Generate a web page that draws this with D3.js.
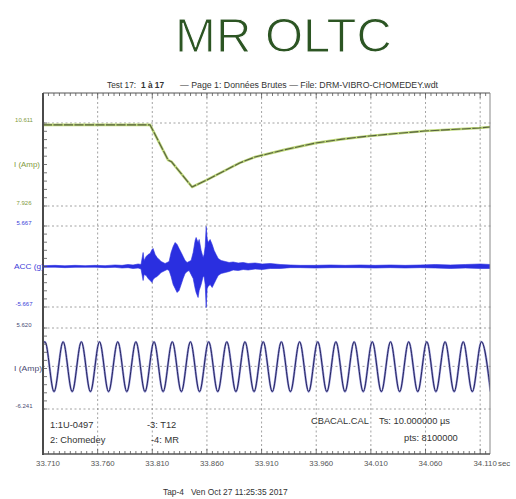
<!DOCTYPE html>
<html><head><meta charset="utf-8">
<script src="https://cdn.jsdelivr.net/npm/d3@7"></script>
<style>body{margin:0;background:#fff}svg{display:block}text{font-family:"Liberation Sans",Arial,sans-serif}</style>
</head><body><svg id="c" width="516" height="499"></svg>
<script>
// ---------- data ----------
const xTicks = [33.710,33.760,33.810,33.860,33.910,33.960,34.010,34.060,34.110];
const xTickLabels = ["33.710","33.760","33.810","33.860","33.910","33.960","34.010","34.060","34.110"];
const xDomain = [33.710, 34.119];

const curRange = [7.926, 10.611];
const curTickLabels = ["10.611","7.926"];
const curT = [33.710,33.808,33.8245,33.8275,33.8464,33.860,33.890,33.904,33.9316,33.959,33.9838,34.0085,34.0333,34.059,34.0836,34.109,34.119];
const curV = [10.55,10.55,9.41,9.36,8.54,8.77,9.32,9.51,9.75,9.96,10.09,10.19,10.27,10.35,10.40,10.45,10.48];

const accRange = [-5.667, 5.667];
const accTickLabels = ["5.667","-5.667"];
const accT = [33.7100,33.7210,33.7301,33.7393,33.7485,33.7576,33.7668,33.7759,33.7823,33.7878,33.7924,33.7970,33.7997,33.8016,33.8025,33.8044,33.8062,33.8080,33.8098,33.8107,33.8126,33.8144,33.8162,33.8181,33.8199,33.8217,33.8236,33.8254,33.8272,33.8291,33.8309,33.8327,33.8345,33.8364,33.8382,33.8400,33.8419,33.8437,33.8455,33.8474,33.8492,33.8501,33.8519,33.8529,33.8547,33.8565,33.8574,33.8584,33.8593,33.8602,33.8611,33.8629,33.8648,33.8666,33.8684,33.8703,33.8730,33.8767,33.8803,33.8840,33.8886,33.8932,33.8977,33.9041,33.9106,33.9179,33.9270,33.9362,33.9454,33.9591,33.9728,33.9866,34.0003,34.0140,34.0278,34.0415,34.0552,34.0690,34.0827,34.0965,34.1102,34.1193];
const accHi = [0.12,0.16,0.10,0.16,0.12,0.16,0.12,0.21,0.16,0.28,0.21,0.35,0.28,1.96,0.84,1.40,1.68,1.82,2.38,2.52,1.68,1.26,0.98,0.70,0.56,0.42,0.56,0.70,1.96,2.80,3.36,3.08,2.52,1.96,1.40,0.84,0.56,0.70,0.84,1.96,3.64,4.06,3.36,3.78,2.24,1.26,1.68,2.80,5.60,3.92,3.36,3.78,3.08,2.24,1.68,1.12,0.84,0.70,0.56,0.63,0.49,0.56,0.42,0.49,0.35,0.42,0.28,0.21,0.16,0.16,0.21,0.16,0.21,0.16,0.21,0.16,0.21,0.28,0.21,0.28,0.35,0.28];
const accLo = [-0.12,-0.10,-0.16,-0.12,-0.12,-0.10,-0.16,-0.12,-0.21,-0.16,-0.28,-0.21,-0.35,-1.96,-1.12,-1.26,-1.68,-1.96,-2.24,-1.82,-1.54,-1.40,-1.12,-0.84,-0.70,-0.56,-0.42,-0.56,-1.40,-2.52,-3.08,-3.64,-3.36,-2.52,-1.68,-0.98,-0.70,-0.56,-1.12,-1.68,-3.08,-3.64,-4.34,-3.36,-2.52,-1.40,-1.40,-2.52,-5.74,-3.08,-2.80,-2.52,-2.94,-2.38,-1.82,-1.26,-0.98,-0.84,-0.70,-0.49,-0.56,-0.42,-0.49,-0.35,-0.42,-0.28,-0.28,-0.16,-0.16,-0.21,-0.16,-0.16,-0.16,-0.21,-0.16,-0.21,-0.16,-0.21,-0.28,-0.21,-0.28,-0.28];

const sineRange = [-6.241, 5.620];
const sineTickLabels = ["5.620","-6.241"];
const sineStart = [33.7100, 3.30];
const sinePeakT = [33.7118,33.7284,33.7451,33.7617,33.7784,33.7950,33.8116,33.8283,33.8449,33.8616,33.8782,33.8948,33.9115,33.9281,33.9448,33.9614,33.9780,33.9947,34.0113,34.0280,34.0446,34.0612,34.0779,34.0945,34.1112];
const sinePeakV = [3.6,3.6,3.6,3.6,3.6,3.6,3.6,3.6,3.6,3.6,3.6,3.6,3.6,3.6,3.6,3.6,3.6,3.6,3.6,3.6,3.6,3.6,3.6,3.6,3.6];
const sineTroughT = [33.7201,33.7367,33.7534,33.7700,33.7867,33.8033,33.8199,33.8366,33.8532,33.8699,33.8865,33.9031,33.9198,33.9364,33.9531,33.9697,33.9863,34.0030,34.0196,34.0363,34.0529,34.0695,34.0862,34.1028,34.1195];
const sineTroughV = [-3.7,-3.7,-3.7,-3.7,-3.7,-3.7,-3.7,-3.7,-3.7,-3.7,-3.7,-3.7,-3.7,-3.7,-3.7,-3.7,-3.7,-3.7,-3.7,-3.7,-3.7,-3.7,-3.7,-3.7,-3.7];

const titleText = "MR OLTC";
const channelTexts = ["1:1U-0497","2: Chomedey","-3: T12","-4: MR"];
const infoTexts = ["CBACAL.CAL","Ts: 10.000000 µs","pts: 8100000"];
const footerText = "Tap-4   Ven Oct 27 11:25:35 2017";

// ---------- layout ----------
const svg = d3.select("#c");
const X0 = 43, X1 = 490, TOP = 93, BOT = 454;
const x = d3.scaleLinear().domain(xDomain).range([X0, X1]);

const panels = [
  {dom: curRange, rng: [206,123], labels: curTickLabels, name: "I (Amp)", lc: "#7f9a40", nameW: 26},
  {dom: accRange, rng: [307,226], labels: accTickLabels, name: "ACC (g)", lc: "#3b3bd8", nameW: 30},
  {dom: sineRange, rng: [409,328], labels: sineTickLabels, name: "I (Amp)", lc: "#4a4a72", nameW: 28}
];
panels.forEach(p => p.y = d3.scaleLinear().domain(p.dom).range(p.rng));

svg.append("rect").attr("width",516).attr("height",499).attr("fill","#fff");

// title
svg.append("text").attr("x",283.5).attr("y",52).attr("text-anchor","middle")
  .attr("font-size",49).attr("fill","#2c5523").attr("stroke","#fff").attr("stroke-width",1.1)
  .text(titleText);

// header
const hdr = svg.append("g").attr("font-size",8.3).attr("fill","#333");
hdr.append("text").attr("x",107).attr("y",88).text("Test 17:");
hdr.append("text").attr("x",141).attr("y",88).attr("font-weight","bold").text("1 à 17");
hdr.append("text").attr("x",180).attr("y",88).attr("textLength",258).attr("lengthAdjust","spacingAndGlyphs")
  .text("— Page 1: Données Brutes — File: DRM-VIBRO-CHOMEDEY.wdt");

// grid
const grid = svg.append("g").attr("stroke","#8a8a8a").attr("stroke-width",0.8).attr("stroke-dasharray","2,2.5").attr("fill","none");
xTicks.slice(1).forEach(t => grid.append("line").attr("x1",x(t)).attr("x2",x(t)).attr("y1",TOP).attr("y2",BOT));
panels.forEach(p => {
  const vals = [p.dom[1], p.dom[0]];
  if (p.dom[0] < 0 && p.dom[1] > 0 && p.name !== "ACC (g)") vals.push(0);
  vals.forEach(v => grid.append("line").attr("x1",X0).attr("x2",X1+3).attr("y1",p.y(v)).attr("y2",p.y(v)));
});

// clip
svg.append("clipPath").attr("id","clip").append("rect").attr("x",X0).attr("y",TOP).attr("width",X1-X0).attr("height",BOT-TOP);
const plot = svg.append("g").attr("clip-path","url(#clip)");

// top current trace
const curData = curT.map((t,i)=>({t, v: curV[i]}));
const lineCur = d3.line().x(d=>x(d.t)).y(d=>panels[0].y(d.v));
plot.append("path").datum(curData).attr("d",lineCur).attr("fill","none").attr("stroke","#bcd676").attr("stroke-width",2.6).attr("stroke-linejoin","round");
plot.append("path").datum(curData).attr("d",lineCur).attr("fill","none").attr("stroke","#56603f").attr("stroke-width",1.1).attr("stroke-dasharray","9,1.5").attr("stroke-linejoin","round");

// acc trace
const accData = accT.map((t,i)=>({t, hi: accHi[i], lo: accLo[i]}));
const areaAcc = d3.area().x(d=>x(d.t)).y0(d=>panels[1].y(d.lo)).y1(d=>panels[1].y(d.hi));
plot.append("path").datum(accData).attr("d",areaAcc).attr("fill","#2a2fe0").attr("stroke","#2a2fe0").attr("stroke-width",0.6).attr("stroke-linejoin","round");

// sine trace
const sineData = [{t: sineStart[0], v: sineStart[1]}]
  .concat(sinePeakT.map((t,i)=>({t, v: sinePeakV[i]})))
  .concat(sineTroughT.map((t,i)=>({t, v: sineTroughV[i]})))
  .sort((a,b)=>a.t-b.t);
const lineSine = d3.line().x(d=>x(d.t)).y(d=>panels[2].y(d.v)).curve(d3.curveMonotoneX);
plot.append("path").datum(sineData).attr("d",lineSine).attr("fill","none").attr("stroke","#9a9ad8").attr("stroke-width",2.2);
plot.append("path").datum(sineData).attr("d",lineSine).attr("fill","none").attr("stroke","#22225e").attr("stroke-width",1);

// frame
const frame = svg.append("g").attr("fill","none");
frame.append("line").attr("x1",X0).attr("x2",X1).attr("y1",TOP).attr("y2",TOP).attr("stroke","#555").attr("stroke-width",1);
frame.append("line").attr("x1",X1).attr("x2",X1).attr("y1",TOP).attr("y2",BOT).attr("stroke","#888").attr("stroke-width",1);
frame.append("line").attr("x1",X0).attr("x2",X1).attr("y1",BOT).attr("y2",BOT).attr("stroke","#555").attr("stroke-width",1.4);
frame.append("line").attr("x1",X0).attr("x2",X0).attr("y1",TOP).attr("y2",BOT+1).attr("stroke","#4a4a4a").attr("stroke-width",2);

// minor ticks on top and bottom borders
const minor = d3.range(0, 82).map(i => xDomain[0] + i*0.005).filter(t => t <= xDomain[1]);
const tk = svg.append("g").attr("stroke","#555").attr("stroke-width",0.8);
minor.forEach((t,i) => {
  const L = (i % 10 === 0) ? 5 : 3;
  tk.append("line").attr("x1",x(t)).attr("x2",x(t)).attr("y1",TOP).attr("y2",TOP+L);
  tk.append("line").attr("x1",x(t)).attr("x2",x(t)).attr("y1",BOT).attr("y2",BOT-L);
});
// left ticks
panels.forEach(p => {
  for (let i = 0; i <= 10; i++) {
    const v = p.dom[0] + i*(p.dom[1]-p.dom[0])/10;
    tk.append("line").attr("x1",X0).attr("x2",X0+4).attr("y1",p.y(v)).attr("y2",p.y(v));
  }
});

// left labels
panels.forEach(p => {
  const g = svg.append("g").attr("fill",p.lc).attr("font-size",6);
  g.append("text").attr("x",24).attr("y",p.y(p.dom[1])-1).attr("text-anchor","middle").text(p.labels[0]);
  g.append("text").attr("x",24).attr("y",p.y(p.dom[0])-1).attr("text-anchor","middle").text(p.labels[1]);
  const mid = (p.rng[0]+p.rng[1])/2;
  g.append("text").attr("x",14).attr("y",mid+2).attr("font-size",6.5).attr("textLength",p.nameW).attr("lengthAdjust","spacingAndGlyphs").text(p.name);
});

// bottom tick labels
const bl = svg.append("g").attr("fill","#555").attr("font-size",7.8);
xTicks.forEach((t,i) => bl.append("text").attr("x",x(t)+5).attr("y",466).attr("text-anchor","middle").text(xTickLabels[i]));
bl.append("text").attr("x",498).attr("y",466).text("sec");

// in-plot texts
const it = svg.append("g").attr("fill","#333").attr("font-size",9.3);
it.append("text").attr("x",50).attr("y",427.5).text(channelTexts[0]);
it.append("text").attr("x",50).attr("y",442.5).text(channelTexts[1]);
it.append("text").attr("x",147).attr("y",427.5).text(channelTexts[2]);
it.append("text").attr("x",151).attr("y",442.5).text(channelTexts[3]);
it.append("text").attr("x",311).attr("y",423.5).text(infoTexts[0]);
it.append("text").attr("x",379).attr("y",423.5).text(infoTexts[1]);
it.append("text").attr("x",404).attr("y",440.5).text(infoTexts[2]);

// footer
svg.append("text").attr("x",163).attr("y",495).attr("font-size",8.4).attr("fill","#333").attr("xml:space","preserve").text(footerText);
</script></body></html>
